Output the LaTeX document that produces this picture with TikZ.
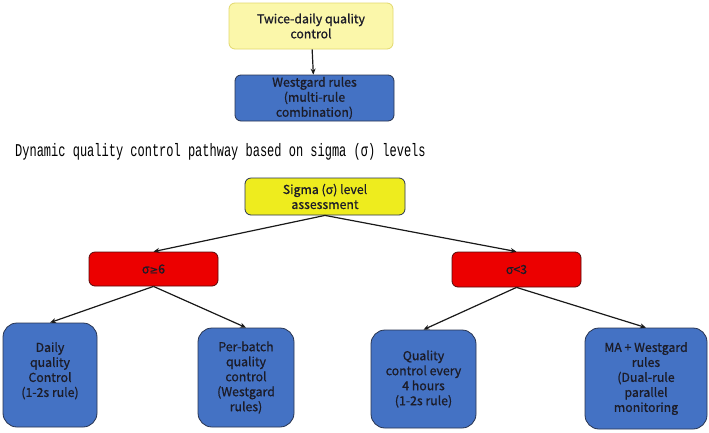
\documentclass[tikz,border=0pt]{standalone}
\usepackage{fontspec}
\usepackage{graphicx}
\setmainfont{Noto Sans CJK SC}[FakeBold=0.9]
\newfontfamily\titlefont{Liberation Mono}
\newfontfamily\symfont{DejaVu Sans}[FakeBold=0.6]
\usetikzlibrary{arrows.meta}
\definecolor{paleyel}{RGB}{251,247,170}
\definecolor{paleyelline}{RGB}{226,216,110}
\definecolor{qcblue}{RGB}{68,114,196}
\definecolor{qcblueline}{RGB}{40,52,80}
\definecolor{sigyel}{RGB}{238,236,30}
\definecolor{qcred}{RGB}{236,0,0}
\definecolor{qcredline}{RGB}{90,10,10}
\definecolor{txtdark}{RGB}{28,28,40}
\tikzset{
  qbox/.style={draw, line width=0.8pt, rounded corners=6pt, align=center, inner sep=0pt,
    font=\fontsize{12.3}{15}\selectfont, text=txtdark},
  bigbox/.style={qbox, fill=qcblue, draw=qcblueline, rounded corners=14pt},
  redbox/.style={qbox, fill=qcred, draw=qcredline},
  conn/.style={line width=1.2pt, draw=black!90, -{Stealth[length=6pt,width=5pt]}}
}
\begin{document}
\begin{tikzpicture}[x=1pt,y=-1pt]
\useasboundingbox (0,0) rectangle (709,432);
\node[qbox, fill=paleyel, draw=paleyelline, minimum width=164pt, minimum height=46pt] (top) at (311,26) {Twice-daily quality\\control};
\node[qbox, fill=qcblue, draw=qcblueline, minimum width=159pt, minimum height=46pt] (west) at (314.5,98) {Westgard rules\\(multi-rule\\combination)};
\node[anchor=base west, inner sep=0pt, font=\titlefont\fontsize{12}{14}\selectfont] (title) at (15,156) {\scalebox{1}[1.5]{Dynamic quality control pathway based on sigma (σ) levels}};
\node[qbox, fill=sigyel, draw=qcblueline, minimum width=160pt, minimum height=37pt] (sig) at (325,196.5) {Sigma (σ) level\\assessment};
\node[redbox, minimum width=129pt, minimum height=34pt] (hi) at (153.5,269) {σ{\symfont\fontsize{10.5}{15}\selectfont ≥}6};
\node[redbox, minimum width=129pt, minimum height=35pt] (lo) at (516.5,269.5) {σ<3};
\node[bigbox, minimum width=94pt, minimum height=104pt] (b1) at (50,375) {Daily\\quality\\Control\\(1-2s rule)\\[-4pt]\mbox{}};
\node[bigbox, minimum width=96pt, minimum height=99pt] (b2) at (246,377.5) {Per-batch\\quality\\control\\(Westgard\\rules)};
\node[bigbox, minimum width=105pt, minimum height=98pt] (b3) at (423.5,379) {Quality\\control every\\4 hours\\(1-2s rule)};
\node[bigbox, minimum width=122pt, minimum height=101pt] (b4) at (646,378.5) {MA + Westgard\\rules\\(Dual-rule\\parallel\\monitoring};
\draw[conn] (top) -- (west);
\draw[conn] (sig.south) -- (hi.north);
\draw[conn] (sig.south) -- (lo.north);
\draw[conn] (hi.south) -- (b1.north);
\draw[conn] (hi.south) -- (b2.north);
\draw[conn] (lo.south) -- (b3.north);
\draw[conn] (lo.south) -- (b4.north);
\end{tikzpicture}
\end{document}
